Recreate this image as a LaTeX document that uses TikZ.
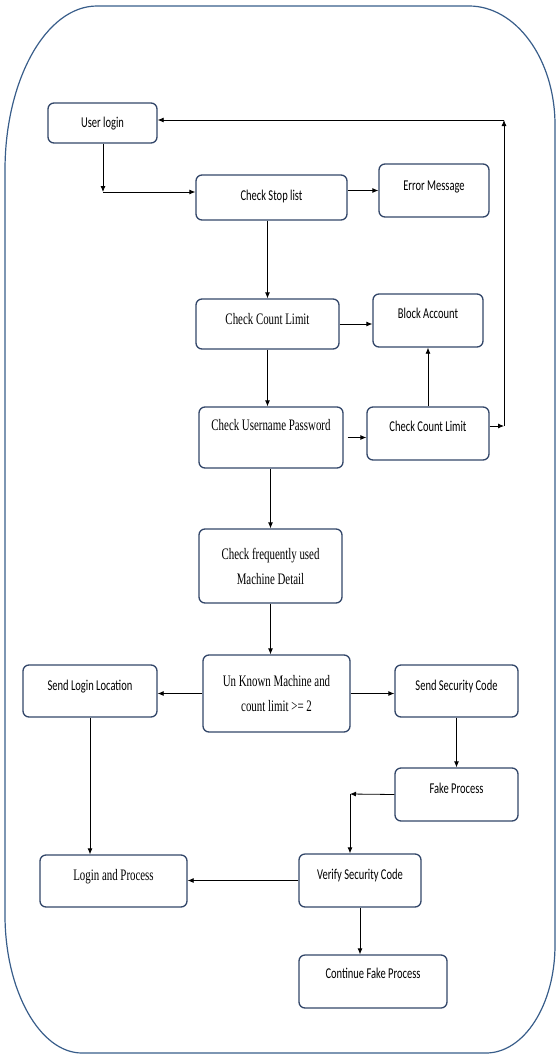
\documentclass[tikz,border=0pt]{standalone}
\usepackage{fontspec}
\usetikzlibrary{arrows.meta,positioning}
\newfontfamily\boxsans[FakeStretch=0.7]{Carlito}
\newfontfamily\boxserif[FakeStretch=0.68]{Liberation Serif}
\definecolor{outline}{RGB}{56,93,138}
\definecolor{boxedge}{RGB}{50,70,105}

\begin{document}
\begin{tikzpicture}[x=1pt, y=-1pt, >={Latex[length=6pt,width=5pt]},
    box/.style={draw=boxedge, line width=1.3pt, rounded corners=6pt, inner ysep=0pt},
    sanstxt/.style={font=\boxsans\fontsize{15}{18}\selectfont},
    seriftxt/.style={font=\boxserif\fontsize{16}{25}\selectfont, align=center},
    link/.style={->, line width=0.8pt}]
    \useasboundingbox (0,0) rectangle (556,1057);
    % outer frame
    \draw[outline, line width=1.2pt] (97,6) -- (469,6)
        .. controls (516,6) and (555,59) .. (555,125) -- (555,945)
        .. controls (555,1005) and (524,1053) .. (486,1053) -- (82,1053)
        .. controls (40,1053) and (5,991) .. (5,915) -- (5,170)
        .. controls (5,80) and (46,6) .. (97,6) -- cycle;

    % login checks
    \node[box, sanstxt, minimum width=109pt, text height=24pt, text depth=16pt] (userlogin) at (102.5,123) {User login};
    \node[box, sanstxt, minimum width=151pt, text height=25pt, text depth=20pt] (stoplist) at (271.5,197.5) {Check Stop list};
    \node[box, sanstxt, minimum width=110pt, text height=26pt, text depth=27pt] (errmsg) at (434,190.5) {Error Message};
    \node[box, seriftxt, minimum width=143pt, text height=25pt, text depth=25pt] (countlim) at (267.5,324) {Check Count Limit};
    \node[box, sanstxt, minimum width=110pt, text height=24pt, text depth=29pt] (block) at (428,320.5) {Block Account};
    \node[box, seriftxt, minimum width=144pt, text height=23pt, text depth=38pt] (userpass) at (271,437.5) {Check Username Password};
    \node[box, sanstxt, minimum width=122pt, text height=24pt, text depth=29pt] (recount) at (428,433.5) {Check Count Limit};

    % machine checks
    \node[box, seriftxt, minimum width=143pt, minimum height=74pt] (machine) at (270.5,566) {Check frequently used\\Machine Detail};
    \node[box, seriftxt, minimum width=147pt, minimum height=77pt] (unknown) at (276.5,693.5) {Un Known Machine and\\count limit >= 2};
    \node[box, sanstxt, minimum width=134pt, text height=25pt, text depth=27pt] (sendloc) at (90,691) {Send Login Location};
    \node[box, sanstxt, minimum width=123pt, text height=25pt, text depth=27pt] (sendcode) at (456.5,691) {Send Security Code};
    \node[box, sanstxt, minimum width=123pt, text height=25pt, text depth=28pt] (fake) at (456.5,794.5) {Fake Process};
    \node[box, sanstxt, minimum width=122pt, text height=25pt, text depth=28pt] (verify) at (360,880.5) {Verify Security Code};
    \node[box, seriftxt, minimum width=147pt, text height=25pt, text depth=27pt] (loginproc) at (113.5,881) {Login and Process};
    \node[box, sanstxt, minimum width=148pt, text height=23pt, text depth=30pt] (contfake) at (373,981.5) {Continue Fake Process};

    \coordinate (ulbend) at (103,192);
    \coordinate (loopR) at (504,426);
    \coordinate (loopT) at (504,120);
    \coordinate (fkbend) at (350,794);

    % connectors
    \draw[link] (userlogin.south -| ulbend) -- (ulbend);
    \draw[link] (ulbend) -- (ulbend -| stoplist.west);
    \draw[link] (stoplist.east |- errmsg.west) -- (errmsg.west);
    \draw[link] (countlim.north |- stoplist.south) -- (countlim.north);
    \draw[link] (countlim.east) -- (countlim.east -| block.west);
    \draw[link] (countlim.south) -- (countlim.south |- userpass.north);
    \draw[link] ([xshift=4pt]userpass.east) -- (userpass.east -| recount.west);
    \draw[link] (recount.north) -- (block.south);
    \draw[link] (recount.east |- loopR) -- (loopR);
    \draw[link] (loopR) -- (loopT);
    \draw[link] (loopT) -- (loopT -| userlogin.east);
    \draw[link] (userpass.south -| machine.north) -- (machine.north);
    \draw[link] (machine.south) -- (machine.south |- unknown.north);
    \draw[link] (unknown.west) -- (unknown.west -| sendloc.east);
    \draw[link] (unknown.east) -- (unknown.east -| sendcode.west);
    \draw[link] (sendcode) -- (fake);
    \draw[link] (fake.west) -- (fkbend);
    \draw[link] (fkbend) -- (fkbend |- verify.north);
    \draw[link] (verify.west) -- (verify.west -| loginproc.east);
    \draw[link] (sendloc.south) -- (sendloc.south |- loginproc.north);
    \draw[link] (verify.south) -- (verify.south |- contfake.north);
\end{tikzpicture}
\end{document}
